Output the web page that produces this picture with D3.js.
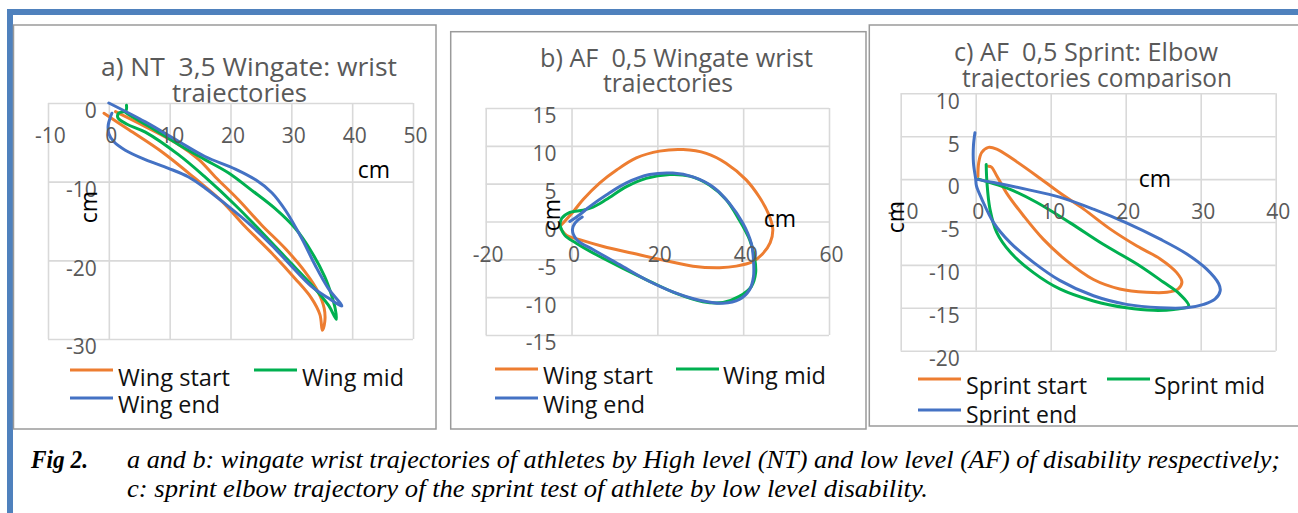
<!DOCTYPE html>
<html><head><meta charset="utf-8">
<script src="https://cdn.jsdelivr.net/npm/d3@7"></script>
<style>body{margin:0;background:#fff;} svg{display:block;} text{white-space:pre;}</style>
</head><body>
<script>
// ---------- DATA ----------
const aTitle = ["a) NT  3,5 Wingate: wrist", "trajectories"];
const aXTicks = [-10, 0, 10, 20, 30, 40, 50];
const aYTicks = [0, -10, -20, -30];
const aNames = ["Wing start", "Wing mid", "Wing end"];
const aWingStart = [[-0.8,-1.3],[3.3,-3.4],[8.7,-6.2],[14.2,-9.6],[18.6,-12.5],[22.4,-15.7],[26.8,-19.1],[30.6,-22.3],[33.3,-24.8],[34.7,-26.9],[35.1,-28.9],[35.5,-27.8],[35.4,-26.1],[34.4,-24.0],[32.2,-21.4],[29.0,-18.5],[25.1,-15.5],[21.3,-12.3],[17.5,-9.4],[14.8,-7.2],[11.5,-5.3],[6.0,-3.0],[1.1,-1.1]];
const aWingMid = [[2.9,-0.3],[2.8,-1.0],[1.6,-1.3],[1.5,-1.9],[3.0,-2.7],[6.0,-3.7],[11.5,-6.6],[15.8,-9.4],[20.8,-13.0],[25.1,-16.4],[29.5,-20.0],[33.3,-23.1],[36.1,-25.7],[37.4,-27.5],[37.2,-26.1],[36.6,-24.4],[35.5,-22.1],[33.3,-18.9],[30.6,-15.9],[27.3,-13.4],[23.5,-11.1],[19.7,-8.9],[15.8,-7.2],[11.5,-5.3],[7.1,-3.2],[3.3,-1.5],[2.6,-1.1]];
const aWingEnd = [[0,0],[6.0,-2.4],[11.5,-4.9],[15.8,-6.8],[20.8,-8.4],[24.2,-9.8],[26.8,-11.4],[29.0,-13.6],[31.7,-17.2],[33.9,-20.6],[36.1,-23.6],[38.3,-25.8],[36.1,-24.8],[33.3,-23.3],[30.1,-20.8],[26.8,-18.1],[23.0,-15.3],[19.1,-12.8],[15.8,-10.8],[13.1,-9.4],[9.8,-8.3],[6.0,-7.2],[2.7,-6.0],[0.8,-4.9],[0,-3.9],[-0.1,-2.8],[0.3,-1.7],[0.5,-1.3]];

const bTitle = ["b) AF  0,5 Wingate wrist", "trajectories"];
const bXTicks = [-20, 0, 20, 40, 60];
const bYTicks = [15, 10, 5, 0, -5, -10, -15];
const bNames = ["Wing start", "Wing mid", "Wing end"];
const bWingStart = [[-2.8,-0.7],[0.4,1.3],[2.7,2.9],[6.6,5.1],[10.5,6.8],[15.1,8.4],[20.5,9.3],[26.0,9.5],[31.4,9.0],[36.0,7.7],[40.7,5.5],[43.8,3.2],[45.9,1.0],[46.9,-1.0],[46.3,-2.8],[44.5,-4.3],[42.2,-5.3],[38.4,-5.9],[34.5,-6.1],[28.3,-5.9],[21.3,-5.1],[14.3,-4.2],[7.4,-3.3],[1.9,-2.4],[-1.2,-1.8],[-2.8,-0.7]];
const bWingMid = [[-2.7,-0.5],[-2.3,0.4],[-0.4,1.2],[2.7,1.5],[5.0,1.9],[8.1,2.9],[12.8,4.6],[17.4,5.7],[22.9,6.2],[27.5,6.0],[32.2,4.8],[36.0,2.9],[39.1,0.2],[41.5,-2.4],[42.6,-4.6],[42.9,-6.8],[41.9,-8.6],[39.1,-9.9],[35.3,-10.7],[30.6,-10.6],[24.4,-9.5],[18.2,-7.9],[12.0,-6.2],[5.8,-4.4],[1.2,-2.9],[-1.6,-1.8],[-2.7,-0.5]];
const bWingEnd = [[-0.4,0],[1.9,0.9],[4.3,2.0],[8.1,3.5],[12.8,5.1],[18.2,6.2],[23.6,6.4],[28.3,5.9],[32.9,4.6],[36.8,2.4],[39.9,-0.2],[41.9,-2.9],[42.4,-5.1],[42.4,-7.3],[41.5,-9.0],[39.1,-10.3],[35.3,-10.8],[29.8,-10.4],[23.6,-9.3],[17.4,-7.7],[11.2,-5.7],[5.0,-3.7],[1.2,-2.4],[0.2,-1.1],[0.8,-0.2],[2.5,0.6]];

const cTitle = ["c) AF  0,5 Sprint: Elbow", "trajectories comparison"];
const cXTicks = [-10, 0, 10, 20, 30, 40];
const cYTicks = [10, 5, 0, -5, -10, -15, -20];
const cNames = ["Sprint start", "Sprint mid", "Sprint end"];
const cSprintStart = [[0.3,0.3],[0.4,1.9],[0.8,3.1],[1.7,3.7],[2.8,3.5],[5.0,2.3],[8.1,0.4],[11.2,-1.6],[14.4,-3.5],[17.9,-5.8],[21.5,-7.8],[24.6,-9.3],[26.8,-10.9],[27.5,-12.0],[27.0,-12.8],[25.5,-13.2],[22.8,-13.2],[19.2,-12.8],[15.7,-11.7],[12.1,-9.5],[9.0,-7.0],[6.4,-4.3],[4.1,-1.6],[2.8,0.4],[2.1,1.4],[1.7,1.5]];
const cSprintMid = [[1.4,1.7],[1.5,-0.4],[1.9,-3.5],[2.8,-6.2],[4.6,-8.5],[7.7,-10.9],[11.2,-12.8],[15.7,-14.2],[20.1,-15.0],[23.7,-15.3],[26.4,-15.2],[28.4,-14.8],[27.2,-13.4],[25.0,-12.0],[21.5,-9.9],[17.0,-7.6],[12.6,-5.1],[8.1,-2.7],[4.6,-1.2],[1.9,-0.4],[0.4,0]];
const cSprintEnd = [[-0.1,5.4],[-0.3,3.9],[-0.3,1.9],[0,0],[0.1,-0.8],[0.8,-2.3],[2.4,-5.1],[4.6,-7.4],[7.7,-9.7],[11.2,-11.8],[15.7,-13.6],[20.1,-14.6],[24.6,-15.0],[28.1,-15.0],[30.4,-14.6],[31.9,-14.0],[32.6,-13.0],[32.4,-12.2],[30.8,-10.5],[28.1,-8.7],[24.6,-7.0],[20.1,-5.1],[15.7,-3.5],[11.2,-2.1],[6.8,-1.2],[2.4,-0.4],[0,0]];

const captionLabel = "Fig 2.";
const captionLines = ["a and b: wingate wrist trajectories of athletes by High level (NT) and low level (AF) of disability respectively;",
                      "c: sprint elbow trajectory of the sprint test of athlete by low level disability."];

// ---------- STYLE / LAYOUT ----------
const seriesColors = ["#ED7D31", "#00B050", "#4472C4"];
const FONT = "'Open Sans', 'DejaVu Sans', sans-serif";
const W = 1298, H = 513;
const svg = d3.select("body").append("svg").attr("width", W).attr("height", H);
const fmt = d => String(d);

// blue frame
svg.append("rect").attr("x", 7).attr("y", 9).attr("width", W - 7).attr("height", 6).attr("fill", "#4F81BD");
svg.append("rect").attr("x", 7).attr("y", 9).attr("width", 6).attr("height", H - 9).attr("fill", "#4F81BD");

const panels = [
  { id: "a", box: [13.5, 25, 436, 429], title: aTitle, xTicks: aXTicks, yTicks: aYTicks,
    xr: [48, 413], yr: [339, 103], xd: [-10, 50], yd: [-30, 0],
    series: [aWingStart, aWingMid, aWingEnd], names: aNames,
    t1: [249, 76, 296], t2: [239.5, 102, 135], tclip: 103,
    yLabOff: 12, xTitle: [374, 170], yTitle: [89, 207],
    legend: [[70, 370, 118, 386, 112], [254, 370, 302, 386, 102], [70, 398, 118, 413, 102]] },
  { id: "b", box: [450.7, 31.7, 866, 429], title: bTitle, xTicks: bXTicks, yTicks: bYTicks,
    xr: [485.7, 829], yr: [335, 108], xd: [-20, 60], yd: [-15, 15],
    series: [bWingStart, bWingMid, bWingEnd], names: bNames,
    t1: [676.5, 67, 273], t2: [668, 92, 130], tclip: 93.5,
    yLabOff: 15, xTitle: [780, 219], yTitle: [552, 215],
    legend: [[495, 369, 543, 384, 110], [676, 369, 723, 384, 103], [495, 398, 543, 413, 102]] },
  { id: "c", box: [869.3, 25, 1302, 426], title: cTitle, xTicks: cXTicks, yTicks: cYTicks,
    xr: [900.7, 1275.7], yr: [350.7, 93.3], xd: [-10, 40], yd: [-20, 10],
    series: [cSprintStart, cSprintMid, cSprintEnd], names: cNames,
    t1: [1086, 61, 264], t2: [1097, 87, 270], tclip: 88.5,
    yLabOff: 16, xTitle: [1155, 179], yTitle: [896, 217],
    legend: [[918, 379, 966, 394, 121], [1107, 379, 1154, 394, 111], [918, 410, 966, 423, 111]] }
];

panels.forEach(p => {
  const [bx0, by0, bx1, by1] = p.box;
  const defs = svg.append("defs");
  defs.append("clipPath").attr("id", "box" + p.id).append("rect")
    .attr("x", bx0).attr("y", by0).attr("width", bx1 - bx0).attr("height", by1 - by0);
  defs.append("clipPath").attr("id", "tc" + p.id).append("rect")
    .attr("x", bx0).attr("y", by0).attr("width", bx1 - bx0).attr("height", p.tclip - by0);

  const g = svg.append("g").attr("clip-path", `url(#box${p.id})`);

  const x = d3.scaleLinear().domain(p.xd).range(p.xr);
  const y = d3.scaleLinear().domain(p.yd).range(p.yr);

  // title
  const tg = g.append("g").attr("clip-path", `url(#tc${p.id})`)
    .attr("font-family", FONT).attr("font-size", 25).attr("fill", "#595959");
  [p.t1, p.t2].forEach((t, i) => {
    tg.append("text").attr("x", t[0]).attr("y", t[1]).attr("text-anchor", "middle")
      .attr("textLength", t[2]).attr("lengthAdjust", "spacingAndGlyphs").text(p.title[i]);
  });

  // gridlines
  const plotH = p.yr[0] - p.yr[1], plotW = p.xr[1] - p.xr[0];
  const gx = g.append("g").attr("transform", `translate(0,${p.yr[0]})`)
    .call(d3.axisBottom(x).tickValues(p.xTicks).tickSize(-plotH).tickFormat(""));
  const gy = g.append("g").attr("transform", `translate(${p.xr[0]},0)`)
    .call(d3.axisLeft(y).tickValues(p.yTicks).tickSize(-plotW).tickFormat(""));
  [gx, gy].forEach(a => {
    a.select(".domain").remove();
    a.selectAll("line").attr("stroke", "#d9d9d9").attr("stroke-width", 1.6);
  });

  // series
  const line = d3.line().x(d => x(d[0])).y(d => y(d[1])).curve(d3.curveCatmullRom.alpha(0.5));
  p.series.forEach((s, i) => {
    g.append("path").datum(s).attr("d", line).attr("fill", "none")
      .attr("stroke", seriesColors[i]).attr("stroke-width", 3)
      .attr("stroke-linejoin", "round").attr("stroke-linecap", "round");
  });

  // tick labels
  const lx = g.append("g").attr("transform", `translate(0,${y(0)})`)
    .call(d3.axisBottom(x).tickValues(p.xTicks).tickSize(0).tickFormat(fmt));
  lx.selectAll("text").attr("y", 33).attr("dy", "0.35em").attr("dx", 2);
  const ly = g.append("g").attr("transform", `translate(${x(0)},0)`)
    .call(d3.axisLeft(y).tickValues(p.yTicks).tickSize(0).tickFormat(fmt));
  ly.selectAll("text").attr("x", -p.yLabOff).attr("y", 7.5).attr("dy", "0.35em");
  [lx, ly].forEach(a => {
    a.select(".domain").remove();
    a.selectAll("text").attr("font-family", FONT).attr("font-size", 21).attr("fill", "#595959");
  });

  // axis titles
  g.append("text").attr("x", p.xTitle[0]).attr("y", p.xTitle[1]).attr("dy", "0.35em")
    .attr("text-anchor", "middle").attr("font-family", FONT).attr("font-size", 23)
    .attr("fill", "#000").text("cm");
  g.append("text").attr("transform", `translate(${p.yTitle[0]},${p.yTitle[1]}) rotate(-90)`)
    .attr("dy", "0.35em").attr("text-anchor", "middle").attr("font-family", FONT)
    .attr("font-size", 23).attr("fill", "#000").text("cm");

  // legend
  p.legend.forEach((L, i) => {
    g.append("line").attr("x1", L[0]).attr("x2", L[0] + 43).attr("y1", L[1]).attr("y2", L[1])
      .attr("stroke", seriesColors[i]).attr("stroke-width", 3);
    g.append("text").attr("x", L[2]).attr("y", L[3]).attr("font-family", FONT)
      .attr("font-size", 23).attr("fill", "#111")
      .attr("textLength", L[4]).attr("lengthAdjust", "spacingAndGlyphs").text(p.names[i]);
  });

  // box border
  svg.append("rect").attr("x", bx0).attr("y", by0).attr("width", bx1 - bx0).attr("height", by1 - by0)
    .attr("fill", "none").attr("stroke", "#9a9a9a").attr("stroke-width", 1.5);
});

// caption
const SERIF = "'Liberation Serif', 'Times New Roman', Tinos, serif";
svg.append("text").attr("x", 31).attr("y", 468).attr("font-family", SERIF)
  .attr("font-size", 25).attr("font-weight", "bold").attr("font-style", "italic").attr("fill", "#000")
  .attr("textLength", 57).attr("lengthAdjust", "spacingAndGlyphs").text(captionLabel);
const capW = [1153, 801];
captionLines.forEach((t, i) => {
  svg.append("text").attr("x", 127).attr("y", 468 + i * 29).attr("font-family", SERIF)
    .attr("font-size", 25).attr("font-style", "italic").attr("fill", "#000")
    .attr("textLength", capW[i]).attr("lengthAdjust", "spacingAndGlyphs").text(t);
});
</script>
</body></html>
